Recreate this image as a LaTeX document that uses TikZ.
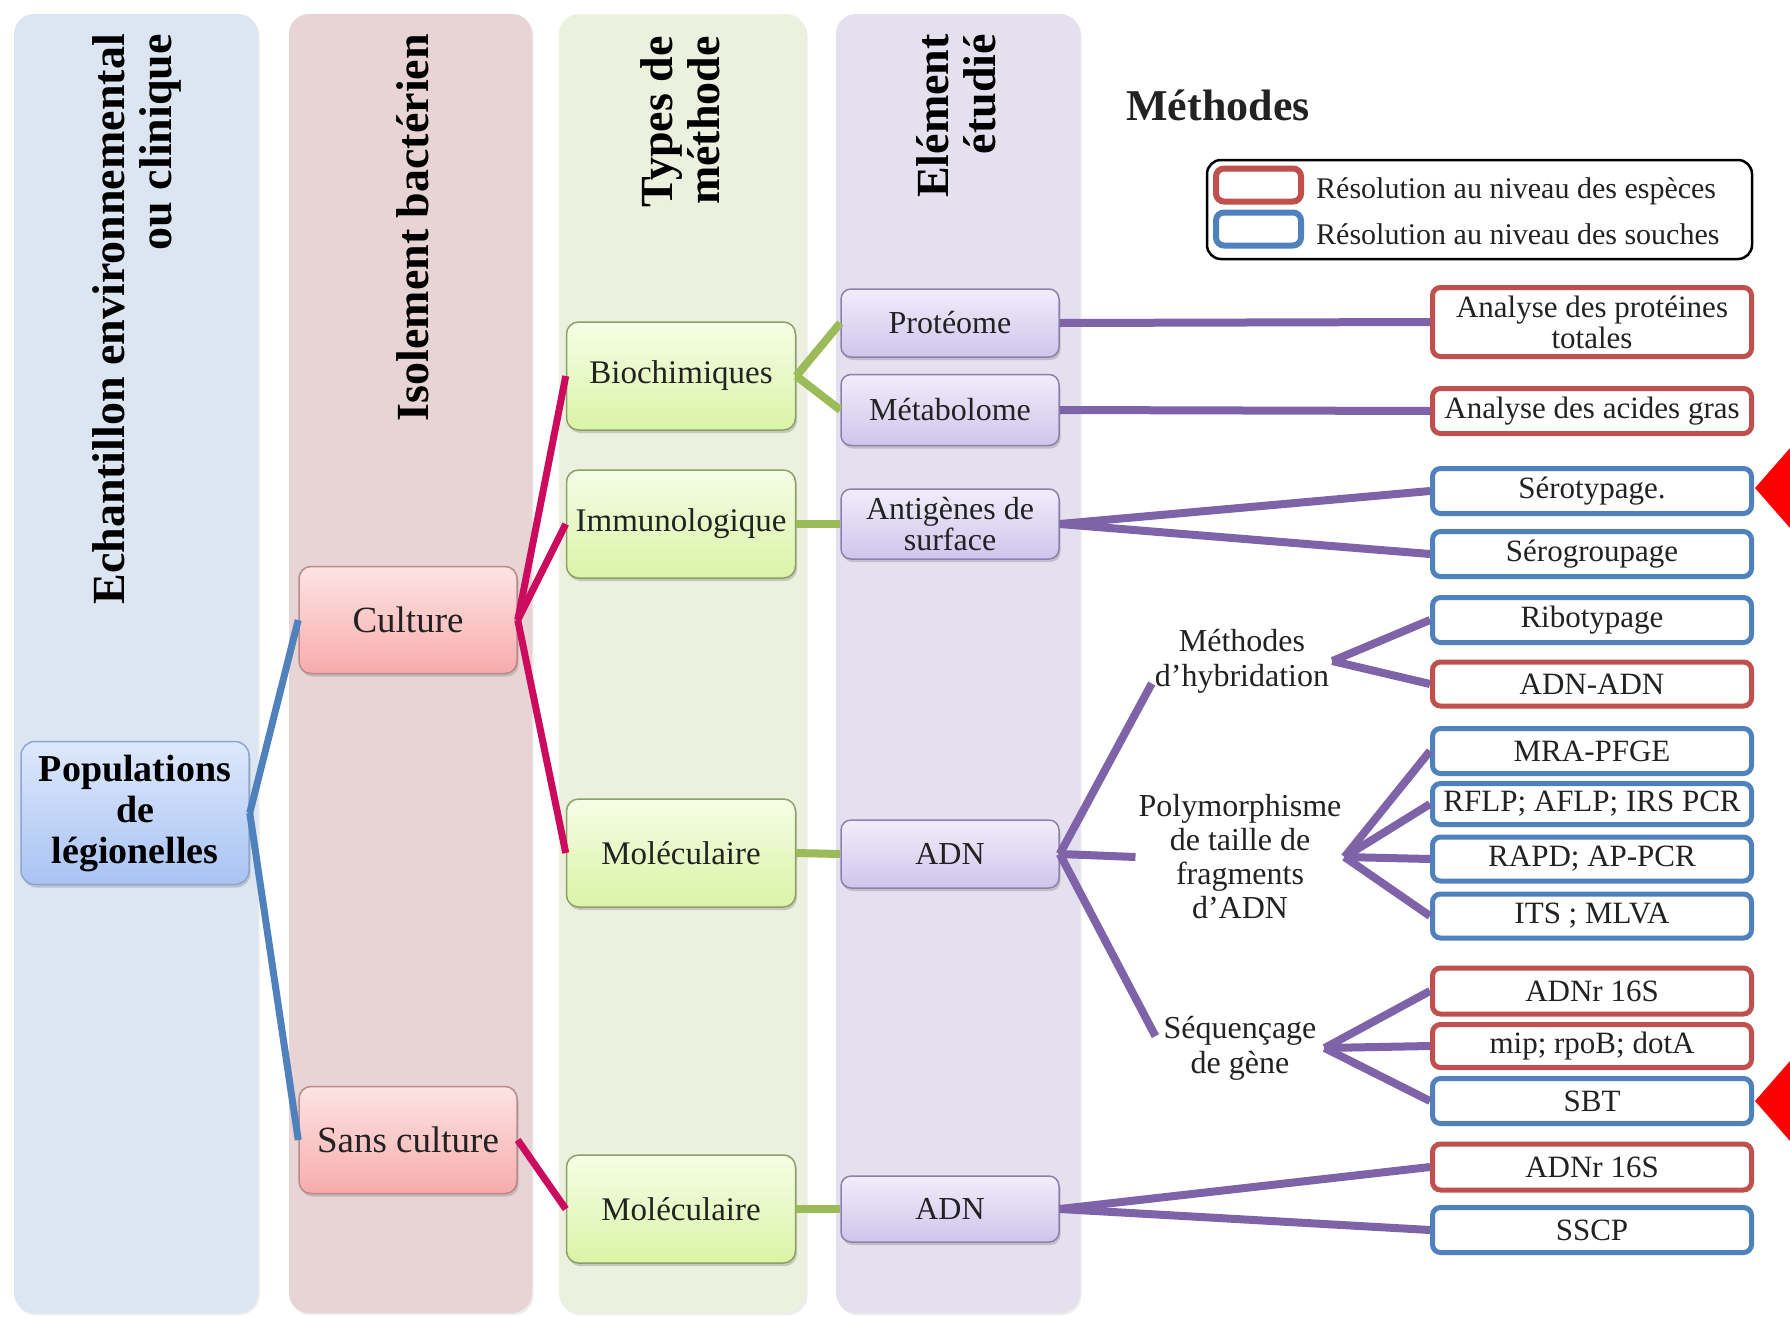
\documentclass[tikz,border=0pt]{standalone}
\usepackage{fontspec}
\setmainfont{Liberation Serif}
\usetikzlibrary{shadows,calc}
\definecolor{colA}{HTML}{DCE6F2}
\definecolor{colB}{HTML}{E8D4D4}
\definecolor{colC}{HTML}{EBF0DF}
\definecolor{colD}{HTML}{E4E0EE}
\definecolor{redB}{HTML}{C0504D}
\definecolor{bluB}{HTML}{4F81BD}
\definecolor{magL}{HTML}{CC0A5E}
\definecolor{grnL}{HTML}{9BBB59}
\definecolor{purL}{HTML}{7F63A8}
\definecolor{txt}{HTML}{222222}
\definecolor{HTMLpop}{HTML}{8FA6CC}
\definecolor{popT}{HTML}{DDE8FC}
\definecolor{popB}{HTML}{A9C3F2}
\definecolor{redD}{HTML}{B88A8A}
\definecolor{redT}{HTML}{FDE4E4}
\definecolor{redBt}{HTML}{F8ABAB}
\definecolor{grnD}{HTML}{8DA068}
\definecolor{grnT}{HTML}{F6FDE6}
\definecolor{grnBt}{HTML}{D9F4A6}
\definecolor{purD}{HTML}{8E80AE}
\definecolor{purT}{HTML}{F1EDFA}
\definecolor{purBt}{HTML}{CFC5EC}
\begin{document}
\begin{tikzpicture}[x=1pt,y=-1pt,
  colbg/.style={rounded corners=20pt, drop shadow={opacity=0.15, shadow xshift=1.5pt, shadow yshift=-2pt}},
  hdr/.style={rotate=90, align=right, inner sep=0pt, font=\fontsize{46}{47}\selectfont\bfseries},
  nshadow/.style={drop shadow={opacity=0.35, shadow xshift=1.5pt, shadow yshift=-3pt}},
  popbox/.style={draw=HTMLpop, line width=1.5pt, rounded corners=14pt, top color=popT, bottom color=popB,
     minimum width=228pt, minimum height=143pt, align=center, inner sep=2pt,
     font=\fontsize{38}{41}\selectfont\bfseries, nshadow},
  redbox/.style={draw=redD, line width=1.5pt, rounded corners=12pt, top color=redT, bottom color=redBt,
     minimum width=218pt, minimum height=107pt, align=center, text=txt,
     font=\fontsize{37}{39}\selectfont, nshadow},
  grnbox/.style={draw=grnD, line width=1.5pt, rounded corners=12pt, top color=grnT, bottom color=grnBt,
     minimum width=229pt, minimum height=108pt, align=center, text=txt,
     font=\fontsize{33}{35}\selectfont, nshadow},
  purbox/.style={draw=purD, line width=1.5pt, rounded corners=10pt, top color=purT, bottom color=purBt,
     minimum width=218pt, minimum height=68pt, align=center, text=txt, inner sep=1pt,
     font=\fontsize{32}{33}\selectfont, nshadow},
  rbox/.style={draw=#1, fill=white, line width=5pt, rounded corners=8pt, minimum width=319pt,
     minimum height=45pt, inner sep=0pt, align=center, text=txt, font=\fontsize{31}{33}\selectfont},
  lab/.style={align=center, text=txt, inner sep=3pt, font=\fontsize{32}{35}\selectfont},
  legkey/.style={draw=#1, fill=white, line width=6pt, rounded corners=8pt, minimum width=85pt, minimum height=33pt, inner sep=0pt},
  bl/.style={bluB, line width=7pt},
  mg/.style={magL, line width=7pt},
  gl/.style={grnL, line width=8pt},
  pl/.style={purL, line width=8pt}
]
\useasboundingbox (0,0) rectangle (1790,1317);
\fill[white] (0,0) rectangle (1790,1317);

% column backgrounds
\fill[colA, colbg] (14,14) rectangle (258,1313);
\fill[colB, colbg] (289,14) rectangle (532,1313);
\fill[colC, colbg] (559,14) rectangle (806,1313);
\fill[colD, colbg] (836,14) rectangle (1080,1313);

% headers
\node[hdr, anchor=east] (h1) at (137,34) {Echantillon environnemental\\ou clinique};
\node[hdr, anchor=east] (h2) at (413,34) {Isolement bactérien};
\node[hdr, anchor=east] (h3) at (680,36) {Types de\\méthode};
\node[hdr, anchor=east] (h4) at (956,34) {Elément\\étudié};

% Méthodes title
\node[text=txt, font=\fontsize{44}{46}\selectfont\bfseries] (meth) at (1218,105) {Méthodes};

% legend
\node[draw=black, line width=2.5pt, rounded corners=14pt, fill=white, minimum width=545pt, minimum height=99pt, inner sep=0pt] (leg) at (1479.5,209.5) {};
\node[legkey=redB] (k1) at (1258.5,185) {};
\node[legkey=bluB] (k2) at (1258.5,229) {};
\node[anchor=west, text=txt, inner sep=0pt, font=\fontsize{30}{32}\selectfont] (l1) at (1316,191) {Résolution au niveau des espèces};
\node[anchor=west, text=txt, inner sep=0pt, font=\fontsize{30}{32}\selectfont] (l2) at (1316,234) {Résolution au niveau des souches};

% main nodes
\node[popbox] (pop) at (135,813) {Populations\\de\\légionelles};
\node[redbox] (cult) at (408,620) {Culture};
\node[redbox] (sans) at (408,1140) {Sans culture};

\node[grnbox] (bio) at (681,376) {Biochimiques};
\node[grnbox] (imm) at (681,524) {Immunologique};
\node[grnbox] (mol1) at (681,853) {Moléculaire};
\node[grnbox] (mol2) at (681,1209) {Moléculaire};

\node[purbox] (prot) at (950,323) {Protéome};
\node[purbox, minimum height=71pt] (meta) at (950,410) {Métabolome};
\node[purbox, minimum height=70pt, font=\fontsize{32}{31}\selectfont] (anti) at (950,524) {Antigènes de\\surface};
\node[purbox] (adn1) at (950,854) {ADN};
\node[purbox, minimum height=66pt] (adn2) at (950,1209) {ADN};

% intermediate labels
\node[lab] (hyb) at (1242,661) {Méthodes\\d’hybridation};
\node[lab, font=\fontsize{32}{34}\selectfont] (poly) at (1240,857) {Polymorphisme\\de taille de\\fragments\\d’ADN};
\node[lab, inner sep=8pt] (seq) at (1240,1048) {Séquençage\\de gène};

% right boxes
\node[rbox=redB, minimum height=69pt, font=\fontsize{31}{31}\selectfont] (r1) at (1592,322) {Analyse des protéines\\totales};
\node[rbox=redB] (r2) at (1592,411) {Analyse des acides gras};
\node[rbox=bluB] (r3) at (1592,491) {Sérotypage.};
\node[rbox=bluB] (r4) at (1592,554) {Sérogroupage};
\node[rbox=bluB] (r5) at (1592,620) {Ribotypage};
\node[rbox=redB, minimum height=44pt] (r6) at (1592,684) {ADN-ADN};
\node[rbox=bluB] (r7) at (1592,751) {MRA-PFGE};
\node[rbox=bluB, minimum height=41pt] (r8) at (1592,804) {RFLP; AFLP; IRS PCR};
\node[rbox=bluB, minimum height=44pt] (r9) at (1592,859) {RAPD; AP-PCR};
\node[rbox=bluB, minimum height=44pt] (r10) at (1592,916) {ITS ; MLVA};
\node[rbox=redB, minimum height=46pt] (r11) at (1592,991) {ADNr 16S};
\node[rbox=redB, minimum height=43pt] (r12) at (1592,1046) {mip; rpoB; dotA};
\node[rbox=bluB] (r13) at (1592,1101) {SBT};
\node[rbox=redB, minimum height=46pt] (r14) at (1592,1167) {ADNr 16S};
\node[rbox=bluB] (r15) at (1592,1230) {SSCP};

% connectors
\draw[bl] (pop.east) -- (cult.west);
\draw[bl] (pop.east) -- (sans.west);
\draw[mg] (cult.east) -- (bio.west);
\draw[mg] (cult.east) -- (imm.west);
\draw[mg] (cult.east) -- (mol1.west);
\draw[mg] (sans.east) -- (mol2.west);
\draw[gl] (bio.east) -- (prot.west);
\draw[gl] (bio.east) -- (meta.west);
\draw[gl] (imm.east) -- (anti.west);
\draw[gl] (mol1.east) -- (adn1.west);
\draw[gl] (mol2.east) -- (adn2.west);
\draw[pl] (prot.east) -- (r1.west);
\draw[pl] (meta.east) -- (r2.west);
\draw[pl] (anti.east) -- (r3.west);
\draw[pl] (anti.east) -- (r4.west);
\draw[pl] (adn1.east) -- (hyb.194);
\draw[pl] (adn1.east) -- (poly.west);
\draw[pl] (adn1.east) -- (seq.172);
\draw[pl] (hyb.east) -- (r5.west);
\draw[pl] (hyb.east) -- (r6.west);
\draw[pl] (poly.east) -- (r7.west);
\draw[pl] (poly.east) -- (r8.west);
\draw[pl] (poly.east) -- (r9.west);
\draw[pl] (poly.east) -- (r10.west);
\draw[pl] (seq.east) -- (r11.west);
\draw[pl] (seq.east) -- (r12.west);
\draw[pl] (seq.east) -- (r13.west);
\draw[pl] (adn2.east) -- (r14.west);
\draw[pl] (adn2.east) -- (r15.west);

% red markers
\fill[red] (1755,488) -- (1790,448) -- (1790,528) -- cycle;
\fill[red] (1755,1101) -- (1790,1061) -- (1790,1141) -- cycle;
\end{tikzpicture}
\end{document}
